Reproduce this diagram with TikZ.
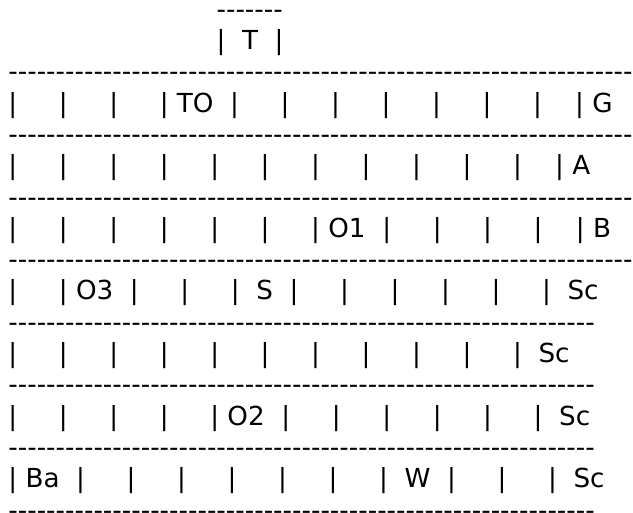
\documentclass[tikz,border=0pt]{standalone}
\usepackage{fontspec}
\newfontfamily\asc{DejaVu Sans}[Ligatures=TeXOff]
\newcommand\dten{----------}
\begin{document}
\begin{tikzpicture}[x=1pt,y=-1pt,
  asciirow/.style={anchor=base west, inner sep=0pt, outer sep=0pt,
    font=\asc\fontsize{26.2pt}{31.3pt}\selectfont, text=black}]
\useasboundingbox (0,0) rectangle (633,513);
\clip (0,0) rectangle (633,513);
\def\xo{8.4}
\node[asciirow] (r1)  at (\xo,18.3)  {~~~~~~~~~~~~~~~~~~~~~~~~~-------};
\node[asciirow] (r2)  at (\xo,49.6)  {~~~~~~~~~~~~~~~~~~~~~~~~~|~~T~~|};
\node[asciirow] (r3)  at (\xo,80.9)  {\dten\dten\dten\dten\dten\dten------};
\node[asciirow] (r4)  at (\xo,112.2) {|~~~~~|~~~~~|~~~~~|~TO~~|~~~~~|~~~~~|~~~~~|~~~~~|~~~~~|~~~~~|~~~~|~G};
\node[asciirow] (r5)  at (\xo,143.5) {\dten\dten\dten\dten\dten\dten------};
\node[asciirow] (r6)  at (\xo,174.8) {|~~~~~|~~~~~|~~~~~|~~~~~|~~~~~|~~~~~|~~~~~|~~~~~|~~~~~|~~~~~|~~~~|~A};
\node[asciirow] (r7)  at (\xo,206.1) {\dten\dten\dten\dten\dten\dten------};
\node[asciirow] (r8)  at (\xo,237.4) {|~~~~~|~~~~~|~~~~~|~~~~~|~~~~~|~~~~~|~O1~~|~~~~~|~~~~~|~~~~~|~~~~|~B};
\node[asciirow] (r9)  at (\xo,268.7) {\dten\dten\dten\dten\dten\dten------};
\node[asciirow] (r10) at (\xo,300.0) {|~~~~~|~O3~~|~~~~~|~~~~~|~~S~~|~~~~~|~~~~~|~~~~~|~~~~~|~~~~~|~~Sc};
\node[asciirow] (r11) at (\xo,331.3) {\dten\dten\dten\dten\dten\dten--};
\node[asciirow] (r12) at (\xo,362.6) {|~~~~~|~~~~~|~~~~~|~~~~~|~~~~~|~~~~~|~~~~~|~~~~~|~~~~~|~~~~~|~~Sc};
\node[asciirow] (r13) at (\xo,393.9) {\dten\dten\dten\dten\dten\dten--};
\node[asciirow] (r14) at (\xo,425.2) {|~~~~~|~~~~~|~~~~~|~~~~~|~O2~~|~~~~~|~~~~~|~~~~~|~~~~~|~~~~~|~~Sc};
\node[asciirow] (r15) at (\xo,456.5) {\dten\dten\dten\dten\dten\dten--};
\node[asciirow] (r16) at (\xo,487.8) {|~Ba~~|~~~~~|~~~~~|~~~~~|~~~~~|~~~~~|~~~~~|~~W~~|~~~~~|~~~~~|~~Sc};
\node[asciirow] (r17) at (\xo,519.1) {\dten\dten\dten\dten\dten\dten--};
\end{tikzpicture}
\end{document}
